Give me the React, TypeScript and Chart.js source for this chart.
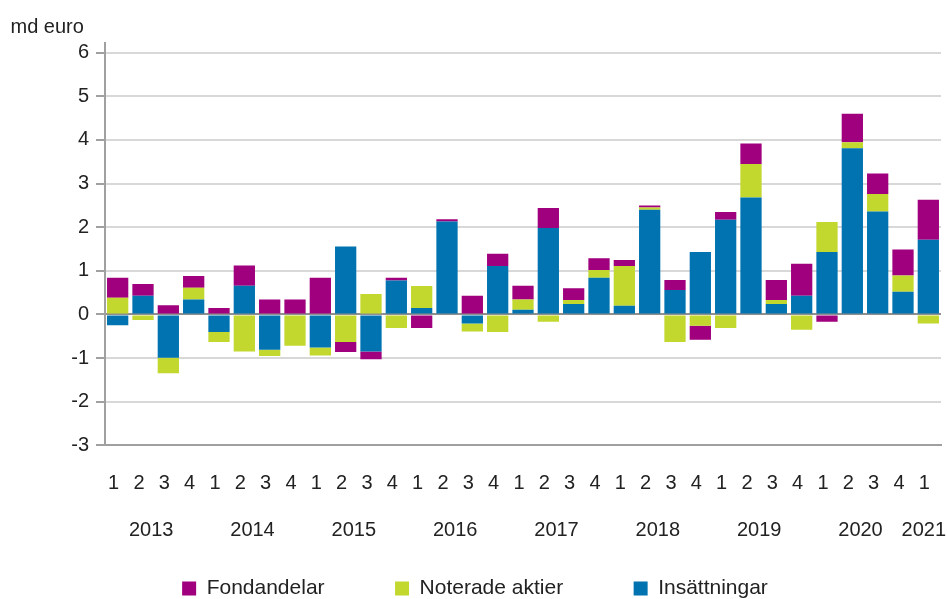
import React, { useEffect, useRef } from "react";
import { Chart, registerables } from "chart.js";

Chart.register(...registerables);

const quarters = [
  "1","2","3","4","1","2","3","4","1","2","3","4","1","2","3","4",
  "1","2","3","4","1","2","3","4","1","2","3","4","1","2","3","4","1",
];
const years = ["2013","2014","2015","2016","2017","2018","2019","2020","2021"];
const yTickValues = [-3, -2, -1, 0, 1, 2, 3, 4, 5, 6];

const insattningar = [
  -0.25, 0.43, -0.99, 0.34, -0.40, 0.66, -0.81, 0, -0.76, 1.56, -0.85, 0.78,
  0.15, 2.13, -0.21, 1.11, 0.11, 1.98, 0.24, 0.84, 0.20, 2.40, 0.56, 1.43,
  2.17, 2.68, 0.24, 0.43, 1.43, 3.81, 2.36, 0.52, 1.71,
];
const noterade = [
  0.38, -0.13, -0.36, 0.27, -0.23, -0.85, -0.14, -0.72, -0.18, -0.63, 0.47, -0.31,
  0.50, 0, -0.18, -0.40, 0.23, -0.17, 0.09, 0.18, 0.91, 0.05, -0.63, -0.26,
  -0.31, 0.77, 0.09, -0.35, 0.69, 0.14, 0.40, 0.37, -0.21,
];
const fondandelar = [
  0.46, 0.27, 0.21, 0.27, 0.15, 0.46, 0.34, 0.34, 0.84, -0.23, -0.18, 0.06,
  -0.31, 0.05, 0.43, 0.28, 0.32, 0.46, 0.27, 0.27, 0.14, 0.05, 0.23, -0.32,
  0.18, 0.47, 0.46, 0.73, -0.17, 0.65, 0.47, 0.60, 0.92,
];

const FONT = "'Liberation Sans', Arial, sans-serif";
const TEXT = "#222222";

const extrasPlugin = {
  id: "extras",
  afterDraw(chart: any) {
    const ctx = chart.ctx;
    const x = chart.scales.x;
    ctx.save();
    ctx.fillStyle = TEXT;
    ctx.font = `20px ${FONT}`;
    ctx.textBaseline = "alphabetic";
    ctx.textAlign = "left";
    ctx.fillText("md euro", 10.5, 33);
    ctx.textAlign = "center";
    ctx.textBaseline = "middle";
    years.forEach((y, k) => {
      const first = k * 4;
      const last = Math.min(first + 3, quarters.length - 1);
      const cx = (x.getPixelForValue(first) + x.getPixelForValue(last)) / 2 - 4.5;
      ctx.fillText(y, cx, 530);
    });
    ctx.restore();
  },
};

export default function App() {
  const ref = useRef<HTMLCanvasElement | null>(null);
  useEffect(() => {
    document.body.style.margin = "0";
    const canvas = ref.current!;
    const chart = new Chart(canvas, {
      type: "bar",
      data: {
        labels: quarters,
        datasets: [
          { label: "Insättningar", data: insattningar, backgroundColor: "#0073b0" },
          { label: "Noterade aktier", data: noterade, backgroundColor: "#c2d82e" },
          { label: "Fondandelar", data: fondandelar, backgroundColor: "#a0007d" },
        ],
      },
      options: {
        responsive: false,
        animation: false,
        maintainAspectRatio: false,
        layout: { padding: { top: 42.7, right: 7, left: 9, bottom: -10 } },
        datasets: { bar: { categoryPercentage: 1, barPercentage: 0.84 } },
        plugins: {
          tooltip: { enabled: false },
          legend: {
            position: "bottom",
            reverse: true,
            labels: {
              boxWidth: 14,
              boxHeight: 14,
              padding: 70.5,
              color: TEXT,
              font: { family: FONT, size: 21 },
            },
          },
        },
        scales: {
          x: {
            stacked: true,
            grid: { display: false, drawTicks: true, tickLength: 26 },
            border: { display: true, color: "#a0a0a0", width: 2 },
            ticks: {
              color: TEXT,
              font: { family: FONT, size: 20 },
              padding: 0,
              labelOffset: -4,
              maxRotation: 0,
              autoSkip: false,
            },
            afterFit(scale: any) {
              scale.height = 62.2;
            },
          },
          y: {
            stacked: true,
            min: -3,
            max: 6.23,
            afterBuildTicks(scale: any) {
              scale.ticks = yTickValues.map((v) => ({ value: v }));
            },
            grid: {
              color: (c: any) => (c.tick && c.tick.value === 0 ? "#8f8f8f" : "#d8d8d8"),
              lineWidth: 2,
              tickLength: 9,
              tickColor: "#a0a0a0",
            },
            border: { display: true, color: "#a0a0a0", width: 2 },
            ticks: {
              stepSize: 1,
              color: TEXT,
              padding: 7,
              font: { family: FONT, size: 20 },
            },
            afterFit(scale: any) {
              scale.width = 96;
            },
          },
        },
      },
      plugins: [extrasPlugin],
    });
    return () => chart.destroy();
  }, []);
  return <canvas ref={ref} width={948} height={599} style={{ display: "block", width: 948, height: 599 }} />;
}
